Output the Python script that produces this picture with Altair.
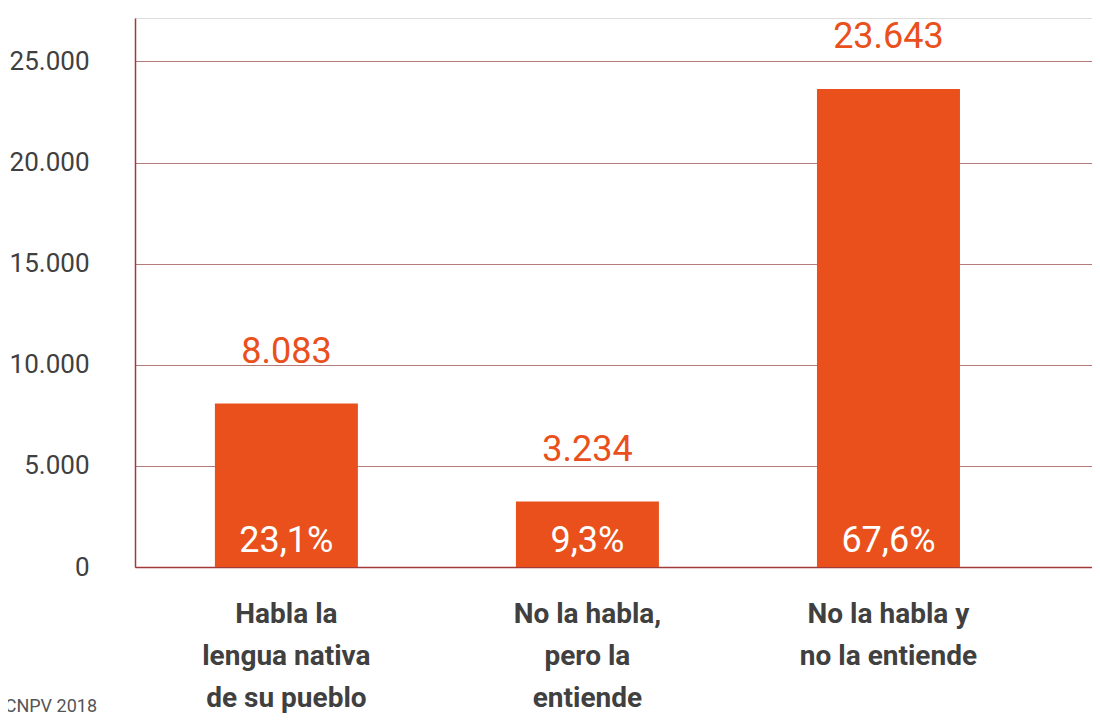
import altair as alt
import pandas as pd

categories = ["Habla la|lengua nativa|de su pueblo", "No la habla,|pero la|entiende", "No la habla y|no la entiende"]
values = [8083, 3234, 23643]
percents = [23.1, 9.3, 67.6]
y_ticks = [0, 5000, 10000, 15000, 20000, 25000]
source = "Fuente: INE, CNPV 2018"

FONT = "Roboto, Liberation Sans, sans-serif"
ORANGE = "#E9501C"

df = pd.DataFrame({
    "cat": categories,
    "value": values,
    "label": [f"{v:,}".replace(",", ".") for v in values],
    "pct": [f"{p:.1f}".replace(".", ",") + "%" for p in percents],
})

x = alt.X("cat:N", sort=categories, title=None,
          scale=alt.Scale(paddingInner=0.525, paddingOuter=0.352, align=0.377),
          axis=alt.Axis(labelExpr="split(datum.label, '|')", labelAngle=0,
                        labelFont=FONT, labelFontSize=28, labelFontWeight="bold",
                        labelColor="#404040", labelLineHeight=42, labelPadding=33,
                        labelBaseline="top", labelLimit=0,
                        ticks=False, domainColor="#a33a3a", domainWidth=1.5, grid=False))
y = alt.Y("value:Q", title=None,
          scale=alt.Scale(domain=[0, 27150], nice=False, zero=True),
          axis=alt.Axis(values=y_ticks, labelExpr="replace(format(datum.value, ','), ',', '.')",
                        labelFont=FONT, labelFontSize=26, labelColor="#404040",
                        labelPadding=46, ticks=False, domainColor="#a33a3a", domainWidth=1.5,
                        grid=True, gridColor="#b57a7a", gridWidth=1))

base = alt.Chart(df)
bars = base.mark_bar(color=ORANGE).encode(x=x, y=y)
top_labels = base.mark_text(font=FONT, fontSize=36, color=ORANGE, dy=-41, baseline="alphabetic").encode(
    x=alt.X("cat:N", sort=categories), y="value:Q", text="label:N")
pct_labels = base.mark_text(font=FONT, fontSize=36, color="white", baseline="alphabetic").encode(
    x=alt.X("cat:N", sort=categories), y=alt.value(534), text="pct:N")

foot = alt.Chart(pd.DataFrame({"t": [source]})).mark_text(
    font=FONT, fontSize=18, color="#555555", align="right", baseline="alphabetic").encode(
    x=alt.value(-38), y=alt.value(694), text="t:N")

chart = alt.layer(bars, top_labels, pct_labels, foot).properties(
    width=957, height=549,
    autosize=alt.AutoSizeParams(type="none"),
    padding={"left": 127, "top": 10, "right": 0, "bottom": 148},
).configure_view(stroke=None).configure(background="white")

chart.save("out.html", embed_options={"renderer": "svg", "actions": False})
